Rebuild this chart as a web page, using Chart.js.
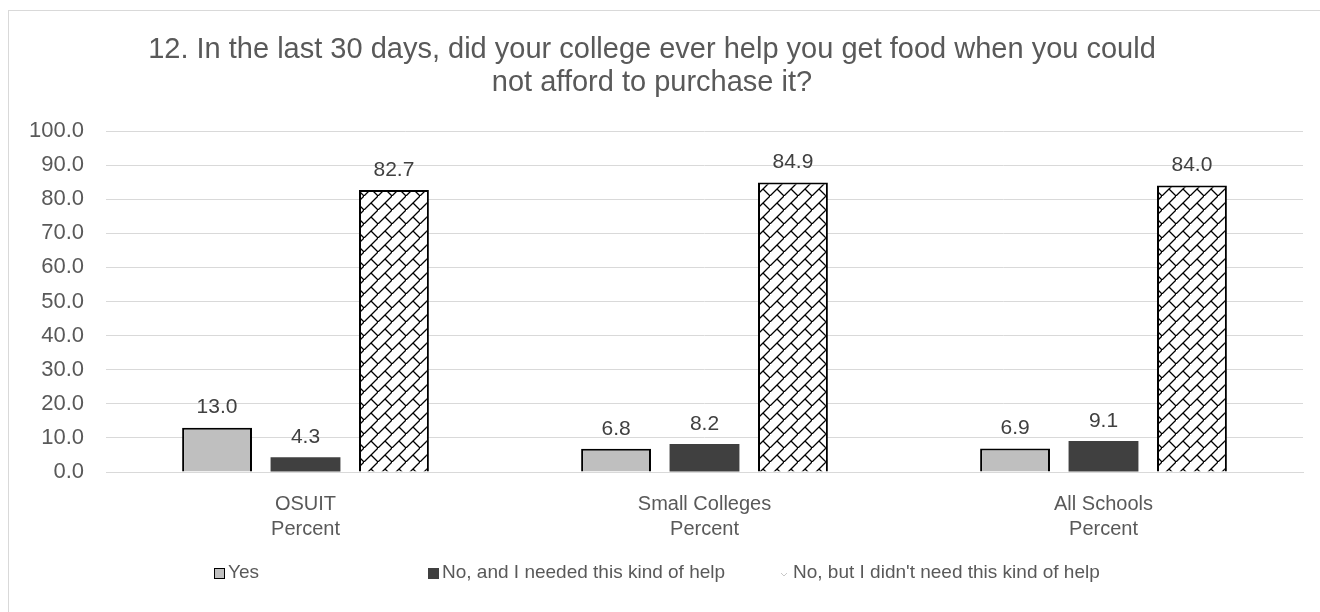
<!DOCTYPE html>
<html>
<head>
<meta charset="utf-8">
<script src="https://cdn.jsdelivr.net/npm/chart.js@4.4.1/dist/chart.umd.min.js"></script>
<style>
    html, body { margin: 0; padding: 0; background: #fff; }
    #frame { position: absolute; left: 8px; top: 10px; width: 1330px; height: 620px; border: 1px solid #d9d9d9; }
    #wrap { position: absolute; left: 0; top: 0; width: 1320px; height: 612px; }
</style>
</head>
<body>
<div id="frame"></div>
<div id="wrap"><canvas id="chart" width="1320" height="612"></canvas></div>
<script>

// DATA

const titleLines = ['12. In the last 30 days, did your college ever help you get food when you could', 'not afford to purchase it?'];
const categories = [['OSUIT', 'Percent'], ['Small Colleges', 'Percent'], ['All Schools', 'Percent']];
const seriesNames = ['Yes', 'No, and I needed this kind of help', "No, but I didn't need this kind of help"];
const yesValues = [13.0, 6.8, 6.9];
const noNeededValues = [4.3, 8.2, 9.1];
const noNotNeededValues = [82.7, 84.9, 84.0];
const yTicks = [0, 10, 20, 30, 40, 50, 60, 70, 80, 90, 100];


// STYLE

const FONT = "'Liberation Sans', Arial, sans-serif";
const TEXT = '#595959';
const GRID = '#d9d9d9';

// diagonal brick hatch
const brick = (() => {
    const s = 14;
    const c = document.createElement('canvas');
    c.width = s; c.height = s;
    const g = c.getContext('2d');
    g.fillStyle = '#fff';
    g.fillRect(0, 0, s, s);
    g.strokeStyle = '#000';
    g.lineWidth = 1.3;
    g.beginPath();
    g.moveTo(-1, s + 1); g.lineTo(s + 1, -1);
    g.moveTo(s / 2, s / 2); g.lineTo(s + 1, s + 1);
    g.stroke();
    return g.createPattern(c, 'repeat');
})();


// PLUGINS

const titlePlugin = {
    id: 'titleText',
    afterDraw(chart) {
        const ctx = chart.ctx;
        ctx.save();
        ctx.fillStyle = TEXT;
        ctx.font = `29px ${FONT}`;
        ctx.textAlign = 'center';
        ctx.textBaseline = 'middle';
        titleLines.forEach((t, i) => ctx.fillText(t, 652, 50 + i * 33));
        ctx.restore();
    }
};

const valueLabels = {
    id: 'valueLabels',
    afterDatasetsDraw(chart) {
        const ctx = chart.ctx;
        ctx.save();
        ctx.fillStyle = '#404040';
        ctx.font = `21px ${FONT}`;
        ctx.textAlign = 'center';
        ctx.textBaseline = 'middle';
        chart.data.datasets.forEach((ds, i) => {
            chart.getDatasetMeta(i).data.forEach((bar, j) => {
                ctx.fillText(ds.data[j].toFixed(1), bar.x, bar.y - 20);
            });
        });
        ctx.restore();
    }
};

const legendPlugin = {
    id: 'customLegend',
    afterDraw(chart) {
        const ctx = chart.ctx;
        const y = 573;
        const items = [
            { x: 214, fill: '#bfbfbf', border: '#000' },
            { x: 428, fill: '#404040', border: null },
            { x: 779, fill: null, border: null }
        ];
        ctx.save();
        ctx.font = `19px ${FONT}`;
        ctx.textBaseline = 'middle';
        items.forEach((it, i) => {
            if (it.fill) {
                ctx.fillStyle = it.fill;
                ctx.fillRect(it.x, y - 5, 11, 11);
                if (it.border) {
                    ctx.strokeStyle = it.border;
                    ctx.lineWidth = 1;
                    ctx.strokeRect(it.x + 0.5, y - 4.5, 10, 10);
                }
            } else {
                ctx.strokeStyle = '#c8c8c8';
                ctx.lineWidth = 1;
                ctx.beginPath();
                ctx.moveTo(it.x + 2, y);
                ctx.lineTo(it.x + 5, y + 3);
                ctx.lineTo(it.x + 8, y);
                ctx.stroke();
            }
            ctx.fillStyle = TEXT;
            ctx.fillText(seriesNames[i], it.x + 14, y);
        });
        ctx.restore();
    }
};


// CHART

new Chart(document.getElementById('chart'), {
    type: 'bar',
    data: {
        labels: categories,
        datasets: [
            { label: seriesNames[0], data: yesValues, backgroundColor: '#bfbfbf', borderColor: '#000', borderWidth: 2 },
            { label: seriesNames[1], data: noNeededValues, backgroundColor: '#404040', borderWidth: 0 },
            { label: seriesNames[2], data: noNotNeededValues, backgroundColor: brick, borderColor: '#000', borderWidth: 2 }
        ]
    },
    options: {
        responsive: false,
        animation: false,
        layout: { padding: { left: 0, right: 17, top: 131, bottom: 40 } },
        categoryPercentage: 0.665,
        barPercentage: 0.79,
        plugins: { legend: { display: false }, tooltip: { enabled: false } },
        scales: {
            x: {
                grid: { display: false, drawTicks: false },
                border: { color: GRID, width: 1 },
                ticks: { color: TEXT, font: { family: FONT, size: 20, lineHeight: 1.25 }, padding: 20, maxRotation: 0 },
                afterFit: (s) => { s.height = 100; }
            },
            y: {
                min: 0, max: 100,
                afterBuildTicks: (s) => { s.ticks = yTicks.map(v => ({ value: v })); },
                grid: { color: GRID, lineWidth: 1, drawTicks: false },
                border: { display: false },
                ticks: { color: TEXT, font: { family: FONT, size: 22 }, padding: 22, callback: (v) => v.toFixed(1) },
                afterFit: (s) => { s.width = 106; }
            }
        }
    },
    plugins: [titlePlugin, valueLabels, legendPlugin]
});
</script>
</body>
</html>
